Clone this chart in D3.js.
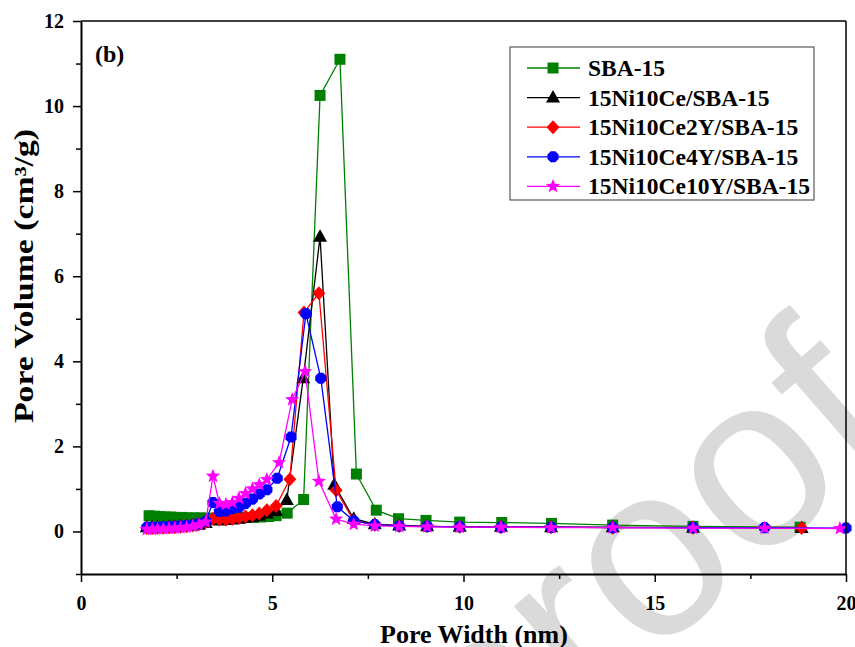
<!DOCTYPE html>
<html><head><meta charset="utf-8">
<script src="https://cdn.jsdelivr.net/npm/d3@7"></script>
<style>html,body{margin:0;padding:0;background:#fff;}</style>
</head><body>
<script>
// ---- data ----
const seriesNames = ["SBA-15","15Ni10Ce/SBA-15","15Ni10Ce2Y/SBA-15","15Ni10Ce4Y/SBA-15","15Ni10Ce10Y/SBA-15"];
const seriesColors = ["#008000","#000000","#ff0000","#0000ff","#ff00ff"];
const xTicks = [0,5,10,15,20];
const yTicks = [0,2,4,6,8,10,12];

const sbaX = [1.78,1.92,2.06,2.2,2.35,2.5,2.65,2.8,2.96,3.12,3.29,3.47,3.64,3.81,3.98,4.15,4.33,4.51,4.7,4.9,5.1,5.39,5.82,6.25,6.77,7.2,7.72,8.3,9.02,9.9,11.0,12.3,13.9,16.0,18.8];
const sbaY = [0.37,0.36,0.35,0.34,0.34,0.33,0.33,0.32,0.32,0.32,0.31,0.31,0.31,0.31,0.32,0.32,0.33,0.33,0.34,0.35,0.37,0.43,0.75,10.25,11.1,1.35,0.5,0.3,0.26,0.22,0.21,0.19,0.15,0.12,0.1];

const ceX = [1.72,1.86,2.0,2.15,2.3,2.45,2.6,2.76,2.92,3.08,3.26,3.45,3.62,3.79,3.96,4.13,4.3,4.48,4.66,4.86,5.1,5.38,5.81,6.25,6.62,7.13,7.68,8.32,9.05,9.9,10.98,12.29,13.9,16.0,18.84];
const ceY = [0.1,0.1,0.1,0.1,0.11,0.11,0.12,0.13,0.14,0.16,0.2,0.27,0.26,0.27,0.28,0.3,0.32,0.34,0.37,0.42,0.48,0.74,3.6,6.93,1.1,0.3,0.17,0.14,0.12,0.11,0.11,0.1,0.1,0.09,0.08];

const ce2yX = [1.72,1.86,2.0,2.15,2.3,2.45,2.6,2.76,2.92,3.08,3.26,3.45,3.62,3.79,3.96,4.13,4.3,4.48,4.66,4.86,5.1,5.46,5.83,6.22,6.67,7.13,7.68,8.32,9.05,9.9,10.98,12.29,13.9,16.0,18.84];
const ce2yY = [0.08,0.08,0.09,0.09,0.1,0.1,0.11,0.12,0.14,0.17,0.22,0.3,0.28,0.28,0.3,0.32,0.35,0.38,0.42,0.5,0.6,1.23,5.15,5.6,0.97,0.25,0.16,0.13,0.12,0.11,0.1,0.1,0.09,0.09,0.08];

const ce4yX = [1.72,1.86,2.0,2.15,2.3,2.45,2.6,2.76,2.92,3.08,3.26,3.45,3.62,3.79,3.96,4.13,4.3,4.48,4.66,4.86,5.13,5.49,5.88,6.27,6.7,7.13,7.68,8.32,9.05,9.9,10.98,12.29,13.9,16.0,17.87,20.0];
const ce4yY = [0.1,0.1,0.1,0.11,0.11,0.12,0.13,0.14,0.15,0.18,0.24,0.68,0.47,0.48,0.54,0.57,0.66,0.76,0.88,0.98,1.25,2.22,5.12,3.6,0.58,0.25,0.16,0.13,0.12,0.11,0.1,0.1,0.09,0.09,0.09,0.08];

const ce10yX = [1.72,1.86,2.0,2.15,2.3,2.45,2.6,2.76,2.92,3.08,3.26,3.45,3.62,3.79,3.96,4.13,4.3,4.48,4.66,4.86,5.18,5.52,5.86,6.22,6.67,7.13,7.68,8.32,9.05,9.9,10.98,12.29,13.9,16.0,17.87,19.84];
const ce10yY = [0.05,0.05,0.06,0.06,0.07,0.08,0.09,0.1,0.12,0.16,0.22,1.3,0.66,0.64,0.68,0.78,0.89,1.0,1.1,1.22,1.62,3.1,3.76,1.18,0.29,0.17,0.13,0.12,0.11,0.1,0.1,0.09,0.09,0.08,0.08,0.07];

const seriesX = [sbaX, ceX, ce2yX, ce4yX, ce10yX];
const seriesY = [sbaY, ceY, ce2yY, ce4yY, ce10yY];

// ---- layout ----
const W = 855, H = 647;
const L = 81, R = 846, T = 21, B = 574;
const FONT = "'Liberation Serif','Times New Roman',serif";

const svg = d3.select("body").append("svg").attr("width", W).attr("height", H)
  .style("background", "#fff");

const x = d3.scaleLinear().domain([0, 20]).range([L, R]);
const y = d3.scaleLinear().domain([-1, 12]).range([B, T]);

// watermark
svg.append("text")
  .attr("transform", "translate(905,438) rotate(-41)")
  .attr("text-anchor", "end")
  .attr("font-family", "'Liberation Sans',Arial,sans-serif")
  .attr("font-size", 245)
  .attr("fill", "#dadada")
  .text("Journal Pre-proof");

// custom symbols
const diamondSym = { draw(ctx, size) { const w = 6.5, h = 7; ctx.moveTo(0,-h); ctx.lineTo(w,0); ctx.lineTo(0,h); ctx.lineTo(-w,0); ctx.closePath(); } };
const hexSym = { draw(ctx, size) { const r = 6; for (let i=0;i<8;i++){ const a = Math.PI/8 + i*Math.PI/4; const px=r*Math.cos(a), py=r*Math.sin(a); if(i===0) ctx.moveTo(px,py); else ctx.lineTo(px,py);} ctx.closePath(); } };
const triSym = { draw(ctx, size) { ctx.moveTo(0,-7.5); ctx.lineTo(7,5); ctx.lineTo(-7,5); ctx.closePath(); } };
const sqSym = { draw(ctx, size) { ctx.rect(-5.5,-5.5,11,11); } };
const starSym = { draw(ctx, size) { const ro=7.5, ri=3.2; for(let i=0;i<10;i++){ const r = i%2===0?ro:ri; const a = -Math.PI/2 + i*Math.PI/5; const px=r*Math.cos(a), py=r*Math.sin(a); if(i===0) ctx.moveTo(px,py); else ctx.lineTo(px,py);} ctx.closePath(); } };
const symbols = [sqSym, triSym, diamondSym, hexSym, starSym];

// data
const line = d3.line().x(d => x(d[0])).y(d => y(d[1]));
const plot = svg.append("g");
seriesNames.forEach((name, i) => {
  const pts = seriesX[i].map((v, j) => [v, seriesY[i][j]]);
  const g = plot.append("g");
  g.append("path").datum(pts).attr("d", line)
    .attr("fill", "none").attr("stroke", seriesColors[i]).attr("stroke-width", 1.3);
  g.selectAll("path.m").data(pts).enter().append("path").attr("class", "m")
    .attr("d", d3.symbol().type(symbols[i]))
    .attr("transform", d => `translate(${x(d[0])},${y(d[1])})`)
    .attr("fill", seriesColors[i]);
});

// frame
svg.append("line").attr("x1", L).attr("x2", R).attr("y1", T).attr("y2", T).attr("stroke", "#000").attr("stroke-width", 1.5);
svg.append("line").attr("x1", R).attr("x2", R).attr("y1", T).attr("y2", B).attr("stroke", "#000").attr("stroke-width", 1.5);

// x axis
svg.append("g").attr("transform", `translate(0,${B})`)
  .call(d3.axisBottom(x).tickValues(xTicks).tickSize(8).tickPadding(14).tickSizeOuter(0).tickFormat(d3.format("d")));
svg.append("g").attr("transform", `translate(0,${B})`)
  .call(d3.axisBottom(x).tickValues([2.5,7.5,12.5,17.5]).tickSize(5).tickSizeOuter(0).tickFormat(""))
  .call(g => g.select(".domain").remove());
// y axis
svg.append("g").attr("transform", `translate(${L},0)`)
  .call(d3.axisLeft(y).tickValues(yTicks).tickSize(8).tickPadding(9).tickSizeOuter(0).tickFormat(d3.format("d")));
svg.append("g").attr("transform", `translate(${L},0)`)
  .call(d3.axisLeft(y).tickValues([-1,1,3,5,7,9,11]).tickSize(5).tickSizeOuter(0).tickFormat(""))
  .call(g => g.select(".domain").remove());

svg.selectAll(".domain").attr("stroke-width", 2);
svg.selectAll(".tick line").attr("stroke-width", 1.5);
svg.selectAll(".tick text").attr("font-family", FONT).attr("font-size", 20).attr("font-weight", "bold").attr("fill", "#000");

// axis titles
svg.append("text").attr("x", 474).attr("y", 643).attr("text-anchor", "middle")
  .attr("font-family", FONT).attr("font-size", 26).attr("font-weight", "bold")
  .text("Pore Width (nm)");
svg.append("text").attr("transform", "translate(33,276) rotate(-90)").attr("text-anchor", "middle")
  .attr("font-family", FONT).attr("font-size", 27).attr("font-weight", "bold")
  .attr("textLength", 294).attr("lengthAdjust", "spacingAndGlyphs")
  .text("Pore Volume (cm³/g)");

// panel label
svg.append("text").attr("x", 95).attr("y", 62)
  .attr("font-family", FONT).attr("font-size", 24).attr("font-weight", "bold").text("(b)");

// legend
const leg = svg.append("g");
leg.append("rect").attr("x", 510).attr("y", 47).attr("width", 304).attr("height", 153)
  .attr("fill", "#fff").attr("stroke", "#666").attr("stroke-width", 1.3);
seriesNames.forEach((name, i) => {
  const ly = 68 + i * 29.6;
  leg.append("line").attr("x1", 527).attr("x2", 580).attr("y1", ly).attr("y2", ly)
    .attr("stroke", seriesColors[i]).attr("stroke-width", 1.3);
  leg.append("path").attr("d", d3.symbol().type(symbols[i]))
    .attr("transform", `translate(553,${ly})`).attr("fill", seriesColors[i]);
  leg.append("text").attr("x", 588).attr("y", ly).attr("dy", "0.34em")
    .attr("font-family", FONT).attr("font-size", 23.5).attr("font-weight", "bold").text(name);
});
</script>
</body></html>
